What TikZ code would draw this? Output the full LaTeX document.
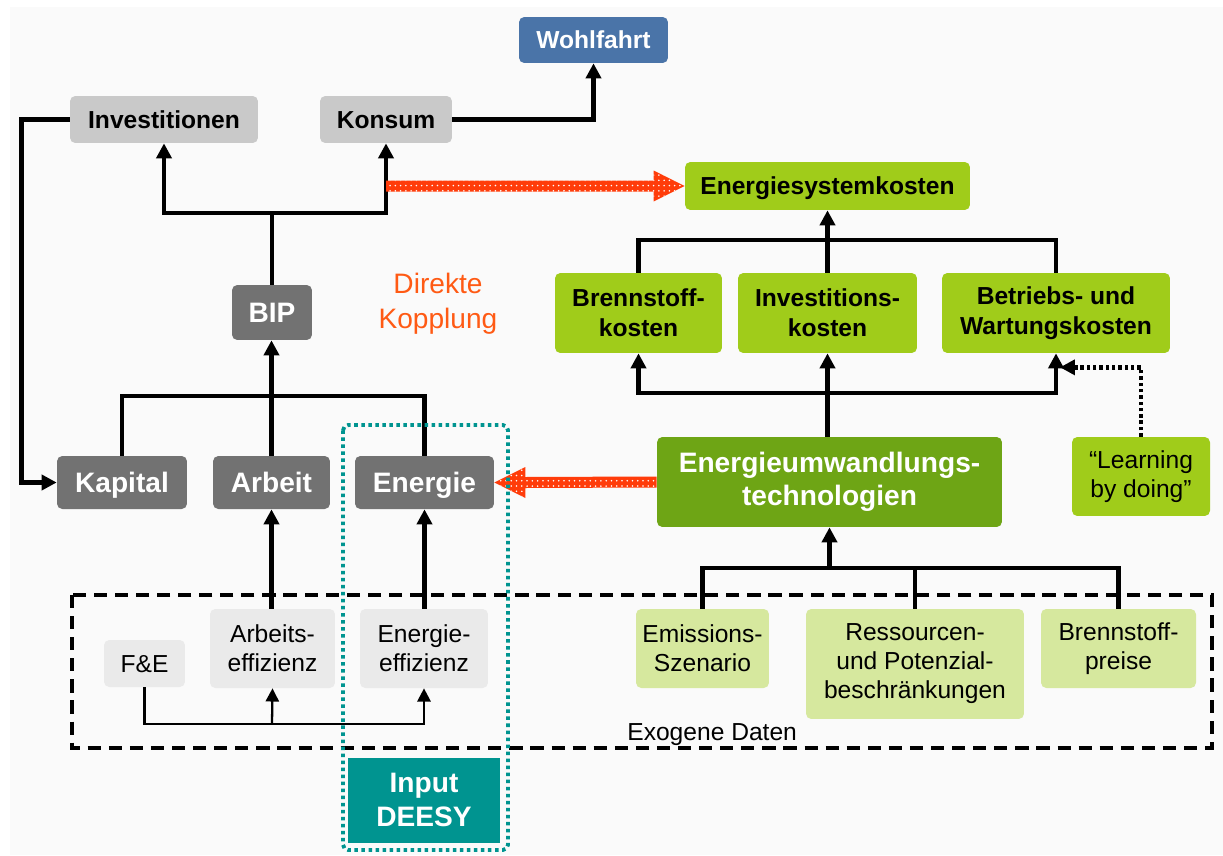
\documentclass[tikz,border=0pt]{standalone}
\usepackage{fontspec}
\setmainfont{Liberation Sans}
\usepackage{tikz}
\usetikzlibrary{arrows.meta,calc,patterns}
\definecolor{hintergrund}{HTML}{FAFAFA}
\definecolor{blaugrau}{HTML}{4A74A8}
\definecolor{hellgrau}{HTML}{C9C9C9}
\definecolor{dunkelgrau}{HTML}{727272}
\definecolor{blassgrau}{HTML}{EAEAEA}
\definecolor{gruen}{HTML}{A0CC1A}
\definecolor{dunkelgruen}{HTML}{6EA515}
\definecolor{blassgruen}{HTML}{D6E89E}
\definecolor{tuerkis}{HTML}{009490}
\definecolor{kopplungrot}{HTML}{FF3C0A}
\definecolor{kopplungtext}{HTML}{FF5A14}

\begin{document}
\begin{tikzpicture}[x=0.02cm,y=-0.02cm,
    kasten/.style={rounded corners=3pt,inner sep=0pt,align=center},
    fett/.style={kasten,font=\fontsize{14}{17}\selectfont\bfseries},
    gross/.style={kasten,font=\fontsize{16}{19}\selectfont\bfseries,text=white},
    schlicht/.style={kasten,font=\fontsize{14}{16.5}\selectfont},
    zeile/.style={text height=#1,text depth=0pt},
    linie/.style={line width=2.7pt},
    pfeil/.style={line width=2.7pt,-{Triangle[length=8.5pt,width=8.5pt]}},
    duennpfeil/.style={line width=1.3pt,-{Triangle[length=7.5pt,width=7.5pt]}},
    kopplung/.style={fill=kopplungrot,postaction={pattern=dots,pattern color=white}}]
  \useasboundingbox (0,0) rectangle (1223,855);
  \fill[hintergrund] (10,7) rectangle (1223,855);

  \node[fett,zeile=10pt,fill=blaugrau,text=white,minimum width=2.98cm,minimum height=0.92cm] (wohl) at (593.5,40) {Wohlfahrt};
  \node[fett,zeile=10pt,fill=hellgrau,minimum width=3.76cm,minimum height=0.94cm] (inv) at (164,119.5) {Investitionen};
  \node[fett,zeile=10pt,fill=hellgrau,minimum width=2.64cm,minimum height=0.94cm] (kons) at (386,119.5) {Konsum};
  \node[fett,zeile=10pt,fill=gruen,minimum width=5.7cm,minimum height=0.96cm] (esk) at (827.5,186) {Energiesystemkosten};
  \node[fett,fill=gruen,minimum width=3.34cm,minimum height=1.6cm] (bsk) at (638.5,313) {Brennstoff-\\kosten};
  \node[fett,fill=gruen,minimum width=3.58cm,minimum height=1.6cm] (ivk) at (827.5,313) {Investitions-\\kosten};
  \node[fett,fill=gruen,minimum width=4.56cm,minimum height=1.6cm] (bwk) at (1056,313) {Betriebs- und\\Wartungskosten};
  \node[gross,fill=dunkelgruen,minimum width=6.9cm,minimum height=1.8cm] (eut) at (829.5,482) {Energieumwandlungs-\\technologien};
  \node[schlicht,fill=gruen,minimum width=2.76cm,minimum height=1.58cm] (lbd) at (1141,476.5) {“Learning\\by doing”};
  \node[gross,zeile=11.5pt,fill=dunkelgrau,minimum width=1.6cm,minimum height=1.1cm] (bip) at (272,312.5) {BIP};
  \node[gross,zeile=11.5pt,fill=dunkelgrau,minimum width=2.6cm,minimum height=1.06cm] (kap) at (122,482.5) {Kapital};
  \node[gross,zeile=11.5pt,fill=dunkelgrau,minimum width=2.34cm,minimum height=1.06cm] (arb) at (271.5,482.5) {Arbeit};
  \node[gross,zeile=11.5pt,fill=dunkelgrau,minimum width=2.78cm,minimum height=1.06cm] (ene) at (424.5,482.5) {Energie};
  \node[schlicht,zeile=10pt,fill=blassgrau,minimum width=1.62cm,minimum height=0.94cm] (fue) at (144.5,663.5) {F\&E};
  \node[schlicht,fill=blassgrau,minimum width=2.5cm,minimum height=1.58cm] (aeff) at (272.5,648.5) {Arbeits-\\effizienz};
  \node[schlicht,fill=blassgrau,minimum width=2.56cm,minimum height=1.58cm] (eeff) at (424,648.5) {Energie-\\effizienz};
  \node[schlicht,fill=blassgruen,minimum width=2.66cm,minimum height=1.58cm] (ems) at (702.5,648.5) {Emissions-\\Szenario};
  \node[schlicht,fill=blassgruen,minimum width=4.36cm,minimum height=2.2cm] (res) at (915,664) {Ressourcen-\\und Potenzial-\\beschränkungen};
  \node[schlicht,fill=blassgruen,minimum width=3.1cm,minimum height=1.58cm] (bpr) at (1118.5,648.5) {Brennstoff-\\preise};
  \node[gross,fill=tuerkis,minimum width=3.04cm,minimum height=1.7cm,rounded corners=0pt] (deesy) at (424,800) {Input\\DEESY};
  \node[align=center,text=kopplungtext,font=\fontsize{16}{20}\selectfont] (dk) at (438,304) {Direkte\\Kopplung};
  \node[schlicht,anchor=west] (exo) at (627,735) {Exogene Daten};

  \draw[pfeil] (kons.east) -| (wohl.south);
  \draw[pfeil] (inv.west) -| ([xshift=-0.7cm]kap.west) -- (kap.west);
  \coordinate (bipknoten) at (272,213);
  \draw[pfeil] (bip.north) -- (bipknoten) -| (inv.south);
  \draw[pfeil] (bipknoten) -| (kons.south);
  \coordinate (faktorknoten) at (272,396);
  \draw[linie] (kap.north) |- (faktorknoten) -| (ene.north);
  \draw[pfeil] (arb.north) -- (arb.north |- bip.south);
  \draw[pfeil] (arb.south |- aeff.north) -- (arb.south);
  \draw[pfeil] (ene.south |- eeff.north) -- (ene.south);
  \coordinate (fueknoten) at (272,724);
  \draw[duennpfeil] (fue.south) |- (fueknoten) -| (eeff.south);
  \draw[duennpfeil] (fueknoten) -- (aeff.south);

  \coordinate (kostenknoten) at (827.5,240);
  \draw[pfeil] (ivk.north) -- (esk.south);
  \draw[linie] (bsk.north) |- (kostenknoten) -| (bwk.north);
  \coordinate (techknoten) at (827.5,393);
  \draw[pfeil] (ivk.south |- eut.north) -- (ivk.south);
  \draw[pfeil] (techknoten) -| (bsk.south);
  \draw[pfeil] (techknoten) -| (bwk.south);
  \draw[line width=2.6pt,dash pattern=on 2pt off 1.6pt,-{Triangle[length=8.5pt,width=8.5pt]}] (lbd.north) |- ([xshift=0.08cm,yshift=-0.28cm]bwk.south);
  \coordinate (datenknoten) at (829.5,568);
  \draw[pfeil] (datenknoten) -- (eut.south);
  \draw[linie] (ems.north) |- (datenknoten) -| (bpr.north);
  \draw[linie] (res.north) -- (res.north |- datenknoten);

  \draw[line width=2pt,dash pattern=on 7.5pt off 4.5pt] (72,595) rectangle (1212,748);

  \coordinate (k1) at (kons.south |- esk.west);
  \fill[kopplung] ($(k1)+(0,-5.5)$) -- ($(esk.west)+(-31,-5.5)$) -- ($(esk.west)+(-31,-15.5)$) -- (esk.west)
    -- ($(esk.west)+(-31,15.5)$) -- ($(esk.west)+(-31,5.5)$) -- ($(k1)+(0,5.5)$) -- cycle;
  \fill[kopplung] ($(eut.west)+(0,-5.5)$) -- ($(ene.east)+(31,-5.5)$) -- ($(ene.east)+(31,-15.5)$) -- (ene.east)
    -- ($(ene.east)+(31,15.5)$) -- ($(ene.east)+(31,5.5)$) -- ($(eut.west)+(0,5.5)$) -- cycle;

  \draw[tuerkis,line width=2.2pt,dash pattern=on 2pt off 2pt,rounded corners=3pt] (343,425) rectangle (508,850);
\end{tikzpicture}
\end{document}
